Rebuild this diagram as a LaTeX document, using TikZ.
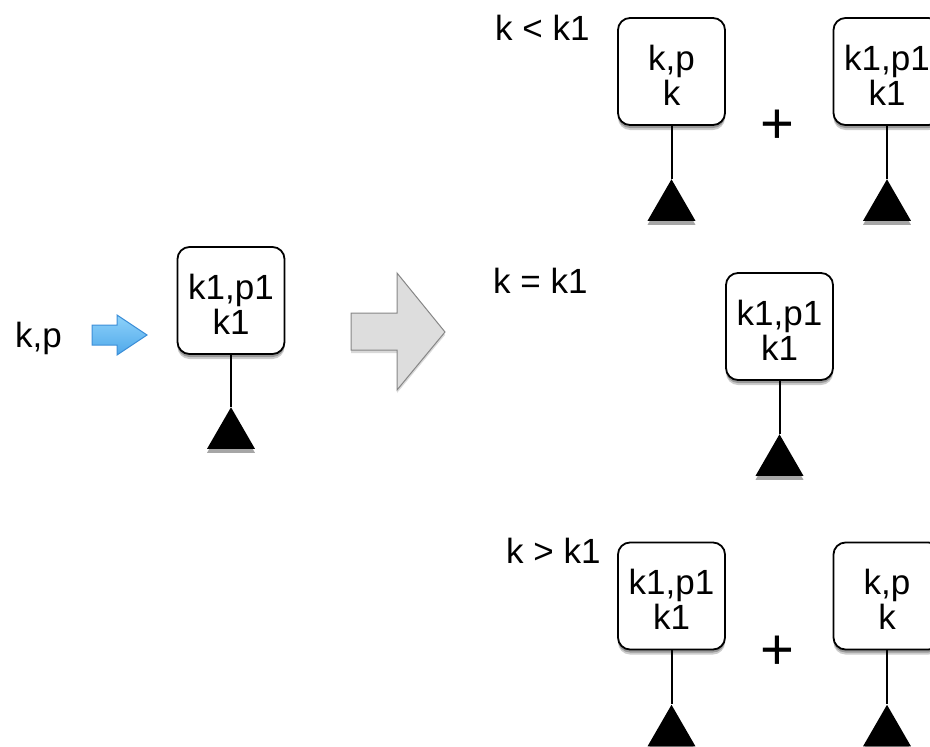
\documentclass[tikz,border=0pt]{standalone}
\usepackage{fontspec}
\setmainfont{Liberation Sans}
\usepackage{tikz}
\usetikzlibrary{positioning}
\usetikzlibrary{shapes.geometric}
\usetikzlibrary{shadows}

\definecolor{pushfill}{HTML}{8ED2FA}
\definecolor{pushdark}{HTML}{4FA8EA}
\definecolor{pushline}{HTML}{3D8FD8}

% key,value on top, key below; first line set a little lower
\newcommand{\kvtext}[2]{\rule{0pt}{32pt}#1\\#2}

\begin{document}
\begin{tikzpicture}[x=1pt, y=-1pt, font=\fontsize{35}{35}\selectfont,
    kv/.style={draw, line width=1.8pt, rounded corners=12pt, fill=white, align=center,
               minimum width=107pt, minimum height=107pt, inner sep=0pt,
               drop shadow={shadow xshift=0pt, shadow yshift=-3pt, opacity=.25, fill=black},
               drop shadow={shadow xshift=0pt, shadow yshift=-5pt, opacity=.2, fill=black}},
    leaf/.style={regular polygon, regular polygon sides=3, fill=black, draw=none,
                 minimum size=55.4pt, inner sep=0pt,
                 drop shadow={shadow xshift=0pt, shadow yshift=-4pt, opacity=.35, fill=black}},
    stem/.style={line width=2pt},
    lbl/.style={anchor=base west, inner sep=0pt},
    plus/.style={font=\fontsize{58}{58}\selectfont, inner sep=0pt}]
    \useasboundingbox (0,0) rectangle (930,747);

    % the node before the insert
    \node[lbl] (in) at (15,347) {k,p};
    \draw[line width=1pt, draw=pushline, top color=pushfill, bottom color=pushdark]
        (92,325) -- (117,325) -- (117,315) -- (147,335) -- (117,355) -- (117,345) -- (92,345) -- cycle;
    \node[kv] (root) at (231,300.5) {\kvtext{k1,p1}{k1}};
    \node[leaf, below=52pt of root] (root-t) {};
    \draw[stem] (root.south) -- (root-t.north);

    \draw[line width=1pt, draw=gray!95, fill=gray!27,
          drop shadow={shadow xshift=0pt, shadow yshift=-3pt, opacity=.15, fill=black}]
        (351,313) -- (397,313) -- (397,273) -- (445,332) -- (397,390) -- (397,350) -- (351,350) -- cycle;

    % k < k1
    \node[lbl] (lt) at (495,40) {k < k1};
    \node[kv] (lt1) at (671.5,71.5) {\kvtext{k,p}{k}};
    \node[leaf, below=53pt of lt1] (lt1-t) {};
    \draw[stem] (lt1.south) -- (lt1-t.north);
    \node[plus] (lt-plus) at (777,127) {+};
    \node[kv] (lt2) at (887,71.5) {\kvtext{k1,p1}{k1}};
    \node[leaf, below=53pt of lt2] (lt2-t) {};
    \draw[stem] (lt2.south) -- (lt2-t.north);

    % k = k1
    \node[lbl] (eq) at (493,293) {k = k1};
    \node[kv] (eq1) at (779.5,326.5) {\kvtext{k1,p1}{k1}};
    \node[leaf, below=53pt of eq1] (eq1-t) {};
    \draw[stem] (eq1.south) -- (eq1-t.north);

    % k > k1
    \node[lbl] (gt) at (506,563) {k > k1};
    \node[kv] (gt1) at (671.5,596) {\kvtext{k1,p1}{k1}};
    \node[leaf, below=54pt of gt1] (gt1-t) {};
    \draw[stem] (gt1.south) -- (gt1-t.north);
    \node[plus] (gt-plus) at (777,653) {+};
    \node[kv] (gt2) at (887,596) {\kvtext{k,p}{k}};
    \node[leaf, below=54pt of gt2] (gt2-t) {};
    \draw[stem] (gt2.south) -- (gt2-t.north);
\end{tikzpicture}
\end{document}
